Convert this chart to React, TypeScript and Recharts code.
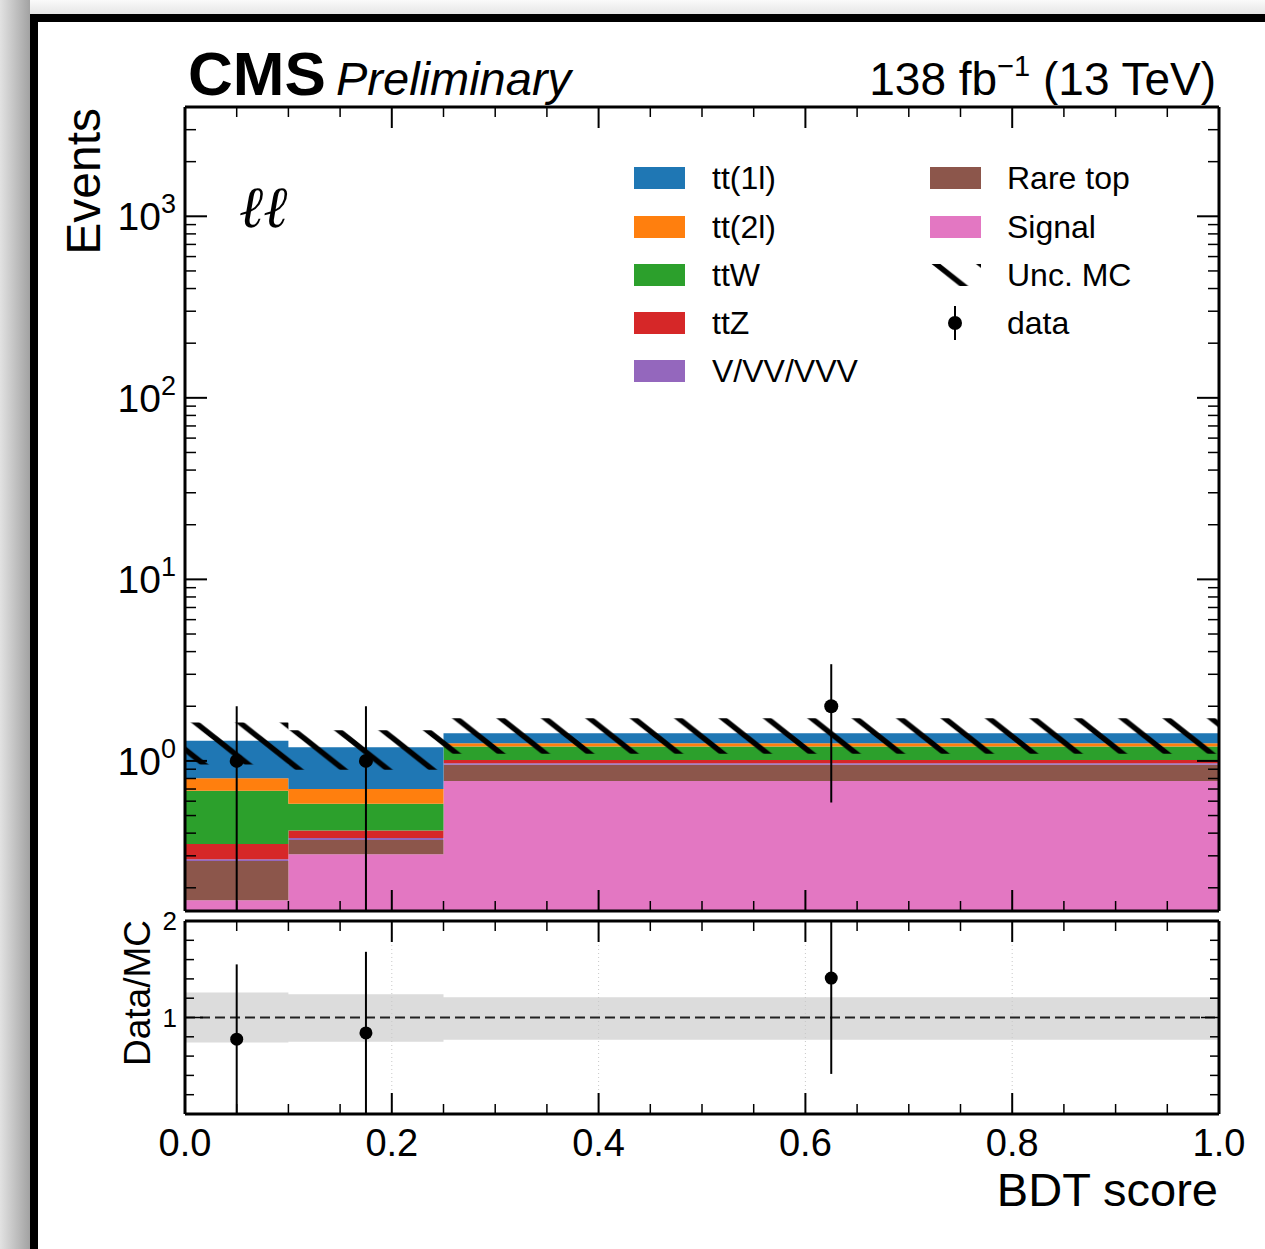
import React from "react"
import { ComposedChart, Area, Scatter, XAxis, YAxis, ReferenceLine } from "recharts"

// BDT score binning
const binEdges = [0, 0.1, 0.25, 1.0]
const binCenters = [0.05, 0.175, 0.625]

// expected yields per bin, stacked bottom -> top
const signal = [0.171, 0.306, 0.776]
const rareTop = [0.11, 0.061, 0.175]
const vvv = [0.006, 0.009, 0.019]
const ttZ = [0.061, 0.037, 0.043]
const ttW = [0.336, 0.167, 0.187]
const tt2l = [0.119, 0.121, 0.05]
const tt1l = [0.487, 0.489, 0.17]

// observed data and its error
const dataCounts = [1, 1, 2]
const dataErrors = [1, 1, 1.41]

// relative MC uncertainty (ratio band)
const uncUp = [1.26, 1.24, 1.21]
const uncDown = [0.74, 0.75, 0.77]

// axis ticks
const xTicks = [0, 0.05, 0.1, 0.15, 0.2, 0.25, 0.3, 0.35, 0.4, 0.45, 0.5, 0.55, 0.6, 0.65, 0.7, 0.75, 0.8, 0.85, 0.9, 0.95, 1.0]
const logTicks = [
  0.2, 0.3, 0.4, 0.5, 0.6, 0.7, 0.8, 0.9,
  1, 2, 3, 4, 5, 6, 7, 8, 9,
  10, 20, 30, 40, 50, 60, 70, 80, 90,
  100, 200, 300, 400, 500, 600, 700, 800, 900,
  1000, 2000, 3000,
]
const ratioTicks = [0, 0.2, 0.4, 0.6, 0.8, 1, 1.2, 1.4, 1.6, 1.8, 2]
const ratioGrid = [0.2, 0.4, 0.6, 0.8]

const processes = [
  { key: "signal", label: "Signal", color: "#e377c2", values: signal },
  { key: "rare", label: "Rare top", color: "#8c564b", values: rareTop },
  { key: "vvv", label: "V/VV/VVV", color: "#9467bd", values: vvv },
  { key: "ttZ", label: "ttZ", color: "#d62728", values: ttZ },
  { key: "ttW", label: "ttW", color: "#2ca02c", values: ttW },
  { key: "tt2l", label: "tt(2l)", color: "#ff7f0e", values: tt2l },
  { key: "tt1l", label: "tt(1l)", color: "#1f77b4", values: tt1l },
]

const FONT = "'Liberation Sans', Arial, Helvetica, sans-serif"
const FLOOR = 0.01 // below the visible log range

const totals = binCenters.map((_, b) => processes.reduce((s, p) => s + p.values[b], 0))

const histRows = binEdges.map((x, i) => {
  const b = Math.min(i, binCenters.length - 1)
  const row: any = { x }
  let acc = 0
  processes.forEach((p) => {
    const lo = acc
    acc += p.values[b]
    row[p.key] = [lo === 0 ? FLOOR : lo, acc]
  })
  row.unc = [totals[b] * uncDown[b], totals[b] * uncUp[b]]
  row.band = [uncDown[b], uncUp[b]]
  return row
})

const dataPoints = binCenters.map((x, i) => ({ x, y: dataCounts[i] }))
const ratioPoints = binCenters.map((x, i) => ({ x, y: dataCounts[i] / totals[i] }))

const isMajorX = (v: number) => Math.abs(v * 5 - Math.round(v * 5)) < 1e-6
const isDecade = (v: number) => Math.abs(Math.log10(v) - Math.round(Math.log10(v))) < 1e-6

const xTick = (side: "top" | "bottom", labels: boolean) => (props: any) => {
  const { x, y, payload } = props
  const v = payload.value
  const major = isMajorX(v)
  const len = major ? 21 : 10
  return (
    <g>
      <line x1={x} x2={x} y1={y} y2={side === "top" ? y + len : y - len} stroke="#000" strokeWidth={major ? 2 : 1.5} />
      {labels && major && (
        <text x={x} y={y + 42} textAnchor="middle" fontSize={38} fontFamily={FONT} fill="#000">
          {v.toFixed(1)}
        </text>
      )}
    </g>
  )
}

const logTick = (side: "left" | "right") => (props: any) => {
  const { x, y, payload } = props
  const v = payload.value
  const major = isDecade(v)
  const len = major ? 22 : 11
  return (
    <g>
      <line x1={x} x2={side === "left" ? x + len : x - len} y1={y} y2={y} stroke="#000" strokeWidth={major ? 2 : 1.5} />
      {side === "left" && major && (
        <text x={x - 9} y={y + 14} textAnchor="end" fontSize={39} fontFamily={FONT} fill="#000">
          10
          <tspan dy={-17} fontSize={27}>
            {Math.round(Math.log10(v))}
          </tspan>
        </text>
      )}
    </g>
  )
}

const ratioTick = (side: "left" | "right") => (props: any) => {
  const { x, y, payload } = props
  const v = payload.value
  const major = Math.abs(v - Math.round(v)) < 1e-6
  const len = major ? 18 : 9
  return (
    <g>
      <line x1={x} x2={side === "left" ? x + len : x - len} y1={y} y2={y} stroke="#000" strokeWidth={1.5} />
      {side === "left" && major && v > 0 && (
        <text x={x - 8} y={y + 9} textAnchor="end" fontSize={26} fontFamily={FONT} fill="#000">
          {v}
        </text>
      )}
    </g>
  )
}

const axisLine = { stroke: "#000", strokeWidth: 3 }

const HatchPattern = ({ id, x, y }: { id: string; x: number; y: number }) => (
  <pattern id={id} patternUnits="userSpaceOnUse" x={x} y={y} width={44.4} height={35.1}>
    <path
      d="M -44.4 -35.1 L 88.8 70.2 M 0 -35.1 L 133.2 70.2 M -88.8 -35.1 L 44.4 70.2"
      stroke="#000"
      strokeWidth={5.5}
    />
  </pattern>
)

const MainPanel = () => (
  <ComposedChart width={1265} height={920} data={histRows} margin={{ top: 97, right: 36, bottom: 4, left: 125 }}>
    <defs>
      <HatchPattern id="hatch" x={36.3} y={0} />
    </defs>
    <XAxis xAxisId="x" dataKey="x" type="number" domain={[0, 1]} allowDataOverflow ticks={xTicks} interval={0}
      height={5} tickSize={0} tickMargin={0} tickLine={false} axisLine={axisLine} tick={xTick("bottom", false)} />
    <XAxis xAxisId="xt" orientation="top" dataKey="x" type="number" domain={[0, 1]} allowDataOverflow ticks={xTicks}
      interval={0} height={10} tickSize={0} tickMargin={0} tickLine={false} axisLine={axisLine} tick={xTick("top", false)} />
    <YAxis yAxisId="y" scale="log" type="number" domain={[0.149, 4000]} allowDataOverflow ticks={logTicks} interval={0}
      width={60} tickSize={0} tickMargin={0} tickLine={false} axisLine={axisLine} tick={logTick("left")} />
    <YAxis yAxisId="yr" orientation="right" scale="log" type="number" domain={[0.149, 4000]} allowDataOverflow
      ticks={logTicks} interval={0} width={10} tickSize={0} tickMargin={0} tickLine={false} axisLine={axisLine}
      tick={logTick("right")} />
    {processes.map((p) => (
      <Area key={p.key} xAxisId="x" yAxisId="y" type="stepAfter" dataKey={p.key} fill={p.color} fillOpacity={1}
        stroke="none" isAnimationActive={false} />
    ))}
    <Area xAxisId="x" yAxisId="y" type="stepAfter" dataKey="unc" fill="url(#hatch)" fillOpacity={1} stroke="none"
      isAnimationActive={false} />
    {binCenters.map((c, i) => (
      <ReferenceLine key={`e${i}`} xAxisId="x" yAxisId="y" ifOverflow="hidden" stroke="#000" strokeWidth={2}
        segment={[{ x: c, y: Math.max(dataCounts[i] - dataErrors[i], FLOOR) }, { x: c, y: dataCounts[i] + dataErrors[i] }]} />
    ))}
    <Scatter xAxisId="x" yAxisId="y" data={dataPoints} dataKey="y" isAnimationActive={false}
      shape={(p: any) => <circle cx={p.cx} cy={p.cy} r={7} fill="#000" />} />
  </ComposedChart>
)

const RatioPanel = () => (
  <ComposedChart width={1265} height={349} data={histRows} margin={{ top: 11, right: 36, bottom: 130, left: 125 }}>
    <XAxis xAxisId="x" dataKey="x" type="number" domain={[0, 1]} allowDataOverflow ticks={xTicks} interval={0}
      height={5} tickSize={0} tickMargin={0} tickLine={false} axisLine={axisLine} tick={xTick("bottom", true)} />
    <XAxis xAxisId="xt" orientation="top" dataKey="x" type="number" domain={[0, 1]} allowDataOverflow ticks={xTicks}
      interval={0} height={10} tickSize={0} tickMargin={0} tickLine={false} axisLine={axisLine} tick={xTick("top", false)} />
    <YAxis yAxisId="y" type="number" domain={[0, 2]} allowDataOverflow ticks={ratioTicks} interval={0} width={60}
      tickSize={0} tickMargin={0} tickLine={false} axisLine={axisLine} tick={ratioTick("left")} />
    <YAxis yAxisId="yr" orientation="right" type="number" domain={[0, 2]} allowDataOverflow ticks={ratioTicks}
      interval={0} width={10} tickSize={0} tickMargin={0} tickLine={false} axisLine={axisLine} tick={ratioTick("right")} />
    {ratioGrid.map((g) => (
      <ReferenceLine key={`g${g}`} xAxisId="x" yAxisId="y" x={g} stroke="#c8c8c8" strokeWidth={1} strokeDasharray="1 3" />
    ))}
    <Area xAxisId="x" yAxisId="y" type="stepAfter" dataKey="band" fill="#dcdcdc" fillOpacity={1} stroke="none"
      isAnimationActive={false} />
    <ReferenceLine xAxisId="x" yAxisId="y" y={1} stroke="#222" strokeWidth={2} strokeDasharray="10 5" />
    {binCenters.map((c, i) => (
      <ReferenceLine key={`r${i}`} xAxisId="x" yAxisId="y" ifOverflow="hidden" stroke="#000" strokeWidth={2}
        segment={[
          { x: c, y: (dataCounts[i] - dataErrors[i]) / totals[i] },
          { x: c, y: (dataCounts[i] + dataErrors[i]) / totals[i] },
        ]} />
    ))}
    <Scatter xAxisId="x" yAxisId="y" data={ratioPoints} dataKey="y" isAnimationActive={false}
      shape={(p: any) => <circle cx={p.cx} cy={p.cy} r={6.5} fill="#000" />} />
  </ComposedChart>
)

const legendLeft = ["tt1l", "tt2l", "ttW", "ttZ", "vvv"]
const legendRight = ["rare", "signal"]
const rowY = [178, 227, 275, 323, 371]

const Overlay = () => {
  const byKey = (k: string) => processes.find((p) => p.key === k)!
  return (
    <svg width={1265} height={1249} style={{ position: "absolute", left: 0, top: 0, pointerEvents: "none" }}>
      <defs>
        <HatchPattern id="hatchLegend" x={936} y={264} />
      </defs>
      <g fontFamily={FONT} fill="#000">
        <text x={188} y={95} fontSize={62} fontWeight="bold">CMS</text>
        <text x={336} y={95} fontSize={47} fontStyle="italic">Preliminary</text>
        <text x={1216} y={95} fontSize={46} textAnchor="end">
          138 fb<tspan dy={-19} fontSize={29}>−1</tspan>
          <tspan dy={19}> (13 TeV)</tspan>
        </text>
        <text x={239} y={227} fontSize={58} fontFamily="'DejaVu Serif', serif" fontStyle="italic">ℓℓ</text>
        <text transform="translate(100,108) rotate(-90)" fontSize={48} textAnchor="end">Events</text>
        <text transform="translate(150,993) rotate(-90)" fontSize={37} textAnchor="middle">Data/MC</text>
        <text x={1218} y={1206} fontSize={47} textAnchor="end">BDT score</text>

        {legendLeft.map((k, i) => (
          <g key={k}>
            <rect x={634} y={rowY[i] - 11} width={51} height={22} fill={byKey(k).color} />
            <text x={712} y={rowY[i] + 11} fontSize={32}>{byKey(k).label}</text>
          </g>
        ))}
        {legendRight.map((k, i) => (
          <g key={k}>
            <rect x={930} y={rowY[i] - 11} width={51} height={22} fill={byKey(k).color} />
            <text x={1007} y={rowY[i] + 11} fontSize={32}>{byKey(k).label}</text>
          </g>
        ))}
        <rect x={930} y={rowY[2] - 11} width={51} height={22} fill="url(#hatchLegend)" />
        <text x={1007} y={rowY[2] + 11} fontSize={32}>Unc. MC</text>
        <line x1={955} x2={955} y1={rowY[3] - 17} y2={rowY[3] + 17} stroke="#000" strokeWidth={2} />
        <circle cx={955} cy={rowY[3]} r={7} fill="#000" />
        <text x={1007} y={rowY[3] + 11} fontSize={32}>data</text>
      </g>
    </svg>
  )
}

export default function App() {
  return (
    <div style={{ position: "absolute", left: 0, top: 0, width: 1265, height: 1249, overflow: "hidden", background: "#ececec" }}>
      <div style={{ position: "absolute", left: 0, top: 0, width: 1265, height: 14, background: "linear-gradient(to bottom, #fafafa, #e6e6e6)" }} />
      <div style={{ position: "absolute", left: 0, top: 0, width: 30, height: 1249, background: "linear-gradient(to right, #e2e2e2, #a2a2a2)" }} />
      <div style={{ position: "absolute", left: 30, top: 14, width: 1300, height: 1300, border: "8px solid #000", background: "#fff", boxSizing: "border-box" }} />
      <div style={{ position: "absolute", left: 0, top: 0 }}>
        <MainPanel />
      </div>
      <div style={{ position: "absolute", left: 0, top: 900 }}>
        <RatioPanel />
      </div>
      <Overlay />
    </div>
  )
}
